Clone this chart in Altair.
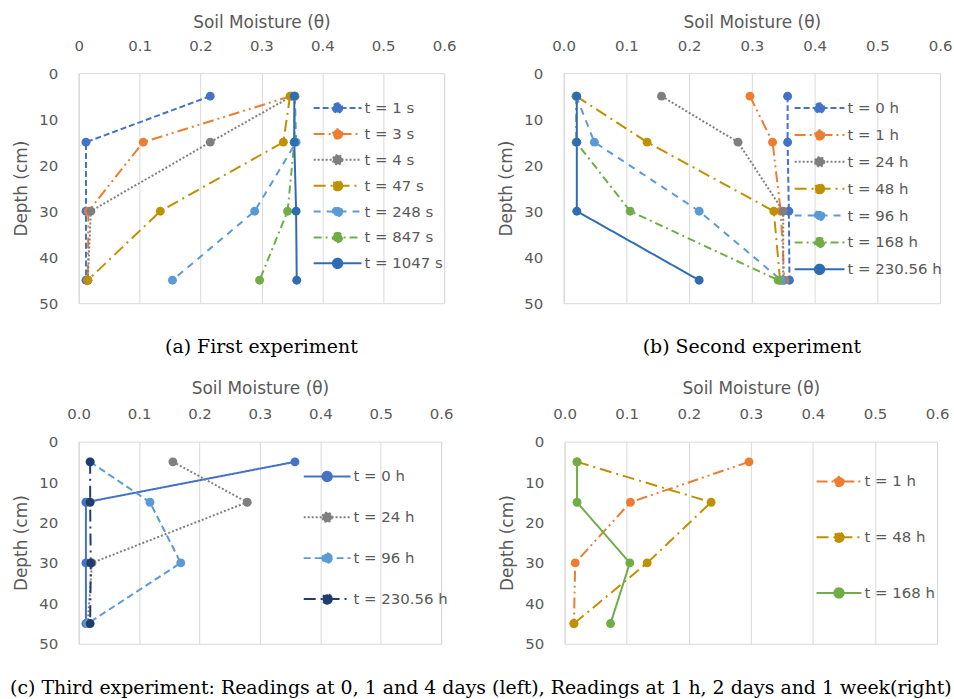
import math
import altair as alt
import pandas as pd

# ---------------- data ----------------
DEPTH = [5, 15, 30, 45]
X_TICKS = [0.0, 0.1, 0.2, 0.3, 0.4, 0.5, 0.6]
Y_TICKS = [0, 10, 20, 30, 40, 50]

# (a) First experiment
A_NAMES = ["t = 1 s", "t = 3 s", "t = 4 s", "t = 47 s", "t = 248 s", "t = 847 s", "t = 1047 s"]
A_T1 = [0.216, 0.012, 0.012, 0.012]
A_T3 = [0.348, 0.106, 0.016, 0.015]
A_T4 = [0.350, 0.216, 0.020, 0.015]
A_T47 = [0.347, 0.336, 0.134, 0.015]
A_T248 = [0.355, 0.357, 0.289, 0.154]
A_T847 = [0.355, 0.354, 0.343, 0.297]
A_T1047 = [0.354, 0.354, 0.357, 0.358]

# (b) Second experiment
B_NAMES = ["t = 0 h", "t = 1 h", "t = 24 h", "t = 48 h", "t = 96 h", "t = 168 h", "t = 230.56 h"]
B_T0 = [0.357, 0.357, 0.359, 0.360]
B_T1 = [0.297, 0.333, 0.346, 0.352]
B_T24 = [0.156, 0.278, 0.350, 0.350]
B_T48 = [0.020, 0.133, 0.335, 0.345]
B_T96 = [0.020, 0.049, 0.216, 0.347]
B_T168 = [0.020, 0.020, 0.106, 0.342]
B_T230 = [0.021, 0.021, 0.021, 0.216]

# (c-left) Third experiment, 0, 1 and 4 days
C_NAMES = ["t = 0 h", "t = 24 h", "t = 96 h", "t = 230.56 h"]
C_T0 = [0.358, 0.012, 0.012, 0.012]
C_T24 = [0.156, 0.279, 0.022, 0.015]
C_T96 = [0.019, 0.118, 0.169, 0.015]
C_T230 = [0.019, 0.019, 0.020, 0.019]

# (c-right) Third experiment, 1 h, 2 days, 1 week
D_NAMES = ["t = 1 h", "t = 48 h", "t = 168 h"]
D_T1 = [0.297, 0.106, 0.017, 0.015]
D_T48 = [0.020, 0.236, 0.133, 0.015]
D_T168 = [0.020, 0.020, 0.105, 0.074]

# ---------------- styles ----------------
BLUE = "#4472C4"
ORANGE = "#ED7D31"
GRAY = "#7F7F7F"
GOLD = "#BF9000"
LBLUE = "#5B9BD5"
GREEN = "#70AD47"
DBLUE = "#2E6DB4"
NAVY = "#203D6E"

SOLID = [1, 0]
DASH = [6, 3]
LDASH = [7, 4]
LDASHDOTDOT = [11, 4, 2, 4, 2, 4]
DOT = [2, 2]
LDASHDOT = [12, 5, 2, 5]
MDASH = [7, 6]
DASHDOT = [8, 4, 2, 4]

FONT = "DejaVu Sans"
SERIF = "DejaVu Serif"
TXT = "#595959"


def symbol_path(width, radius_px, n=28):
    r = radius_px / (width / 2.0)
    pts = []
    for i in range(n):
        a = 2 * math.pi * i / n
        pts.append(f"{r * math.cos(a):.4f},{r * math.sin(a):.4f}")
    return "M-1,0L1,0M" + pts[0] + "L" + "L".join(pts[1:]) + "Z"


def panel(names, series, colors, dashes, w, h, lx, ly, row_pad, sym_w,
          label_expr=None, caption=None, title_pad=7):
    rows = []
    for nm, vals in zip(names, series):
        for d, v in zip(DEPTH, vals):
            rows.append({"series": nm, "depth": d, "theta": v})
    df = pd.DataFrame(rows)

    xaxis_kw = dict(orient="top", title="Soil Moisture (θ)", values=X_TICKS,
                    labelFlush=False, titlePadding=title_pad)
    if label_expr:
        xaxis_kw["labelExpr"] = label_expr
    else:
        xaxis_kw["format"] = ".1f"
    x = alt.X("theta:Q", scale=alt.Scale(domain=[0, 0.6], nice=False, zero=False),
              axis=alt.Axis(**xaxis_kw))
    y = alt.Y("depth:Q", scale=alt.Scale(domain=[0, 50], reverse=True, nice=False),
              axis=alt.Axis(title="Depth (cm)", values=Y_TICKS))

    leg = alt.Legend(title=None, orient="none", legendX=lx, legendY=ly,
                     symbolType=symbol_path(sym_w, 4.7), symbolSize=sym_w * sym_w,
                     symbolStrokeWidth=2, clipHeight=14, rowPadding=row_pad,
                     labelOffset=2, padding=0, symbolOffset=0,
                     labelFont=FONT, labelFontSize=15, labelColor=TXT,
                     labelLimit=200)

    line = alt.Chart(df).mark_line(strokeWidth=2).encode(
        x=x, y=y,
        color=alt.Color("series:N", scale=alt.Scale(domain=names, range=colors), legend=leg),
        strokeDash=alt.StrokeDash("series:N", scale=alt.Scale(domain=names, range=dashes), legend=leg),
        order=alt.Order("depth:Q"),
    )
    pts = alt.Chart(df).mark_point(filled=True, size=80, opacity=1).encode(
        x=x, y=y,
        fill=alt.Fill("series:N", scale=alt.Scale(domain=names, range=colors), legend=leg),
    )
    props = dict(width=w, height=h)
    if caption:
        props["title"] = alt.TitleParams(caption, orient="bottom", font=SERIF,
                                         fontSize=19, fontWeight="normal", color="black",
                                         offset=27, anchor="middle")
    return alt.layer(line, pts).properties(**props)


p1 = panel(A_NAMES, [A_T1, A_T3, A_T4, A_T47, A_T248, A_T847, A_T1047],
           [BLUE, ORANGE, GRAY, GOLD, LBLUE, GREEN, DBLUE],
           [DASH, LDASHDOTDOT, DOT, LDASHDOT, MDASH, DASHDOT, SOLID],
           367, 231, 235, 28, 11, 48,
           label_expr="datum.value == 0 ? '0' : format(datum.value, '.1f')",
           caption="(a) First experiment")
p2 = panel(B_NAMES, [B_T0, B_T1, B_T24, B_T48, B_T96, B_T168, B_T230],
           [BLUE, ORANGE, GRAY, GOLD, LBLUE, GREEN, DBLUE],
           [DASH, LDASHDOTDOT, DOT, LDASHDOT, MDASH, DASHDOT, SOLID],
           378, 231, 231, 28, 12, 50,
           caption="(b) Second experiment")
p3 = panel(C_NAMES, [C_T0, C_T24, C_T96, C_T230],
           [BLUE, GRAY, LBLUE, NAVY],
           [SOLID, DOT, LDASH, LDASHDOT],
           364, 203, 225, 28, 26, 47, title_pad=9)
p4 = panel(D_NAMES, [D_T1, D_T48, D_T168],
           [ORANGE, GOLD, GREEN],
           [LDASHDOTDOT, LDASHDOT, SOLID],
           374, 203, 252, 33, 41, 45, title_pad=9)

RES = dict(color="independent", fill="independent", strokeDash="independent",
           x="independent", y="independent")
LRES = dict(color="independent", fill="independent", strokeDash="independent")

top = alt.hconcat(p1, p2, spacing=40).resolve_scale(**RES).resolve_legend(**LRES)
bottom = alt.hconcat(p3, p4, spacing=44).resolve_scale(**RES).resolve_legend(**LRES).properties(
    title=alt.TitleParams(
        "(c) Third experiment: Readings at 0, 1 and 4 days (left), Readings at 1 h, 2 days and 1 week(right)",
        orient="bottom", font=SERIF, fontSize=19, fontWeight="normal",
        color="black", offset=27, anchor="middle"))

chart = alt.vconcat(top, bottom, spacing=21).resolve_scale(**RES).resolve_legend(**LRES).properties(
    padding={"left": 9, "top": 11, "right": 1, "bottom": 0}
).configure_view(stroke="#D9D9D9", strokeWidth=1).configure_axis(
    labelFont=FONT, labelFontSize=15, labelColor=TXT,
    titleFont=FONT, titleFontSize=17, titleFontWeight="normal", titleColor=TXT,
    ticks=False, tickSize=0, domain=False, gridColor="#D9D9D9", gridWidth=1,
).configure_axisX(grid=True, labelPadding=20).configure_axisY(
    grid=False, labelPadding=21, titlePadding=8)

chart.save("out.html", embed_options={"renderer": "svg", "actions": False})
